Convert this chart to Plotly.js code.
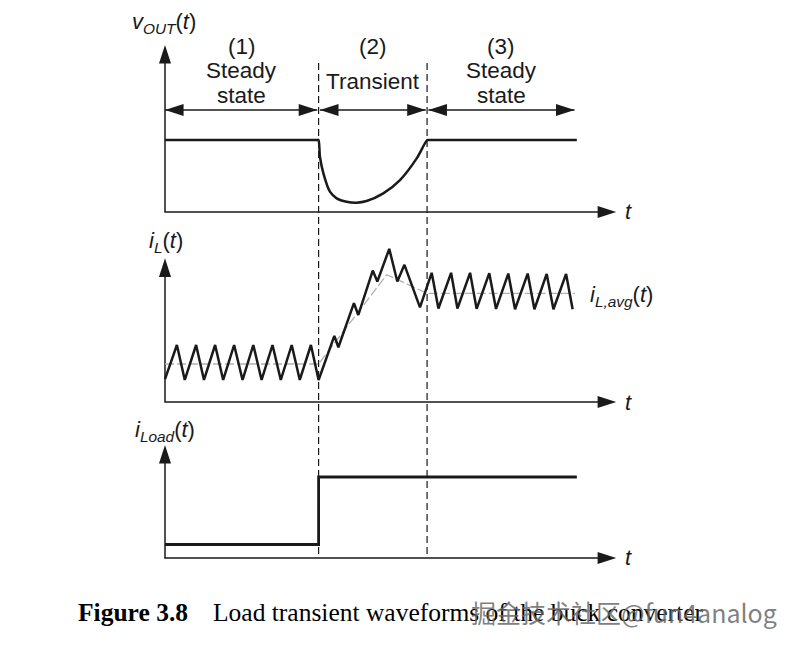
<!DOCTYPE html>
<html><head><meta charset="utf-8">
<script src="https://cdn.plot.ly/plotly-3.0.1.min.js"></script>
<style>html,body{margin:0;padding:0;background:#fff}</style>
</head><body><div id="chart" style="width:800px;height:647px"></div>
<script>
// time in switching periods
const tTransStart = 8.0, tTransEnd = 13.65, tStop = 21.45, tAxisEnd = 23.5;

// Panel 1: v_OUT(t)
const vOutT = [0, 7.9, 7.99, 8.07, 8.25, 8.59, 8.94, 9.46, 9.98, 10.50, 11.37, 12.24, 13.11, 13.66, 13.75, 21.45];
const vOutV = [1.0, 1.0, 1.0, 0.768, 0.537, 0.282, 0.19, 0.143, 0.13, 0.153, 0.259, 0.444, 0.745, 1.0, 1.0, 1.0];

// Panel 2: i_L(t)
const iLT = [0, 0.62, 1.03, 1.62, 2.03, 2.61, 3.03, 3.6, 4.04, 4.6, 5.03, 5.6, 6.03, 6.6, 7.02, 7.6, 8.0,
  8.82, 9.03, 9.84, 10.07, 10.82, 11.06, 11.68, 12.10, 12.47, 13.28, 13.89,
  14.24, 14.90, 15.23, 15.89, 16.23, 16.89, 17.24, 17.88, 18.23, 18.89, 19.24, 19.88, 20.23, 20.89, 21.23];
const iLV = [0.6, 1.5, 0.58, 1.5, 0.58, 1.5, 0.58, 1.5, 0.58, 1.5, 0.58, 1.5, 0.58, 1.5, 0.58, 1.5, 0.58,
  1.74, 1.44, 2.60, 2.29, 3.46, 3.17, 4.03, 3.17, 3.61, 2.49, 3.40,
  2.46, 3.40, 2.46, 3.40, 2.45, 3.39, 2.45, 3.38, 2.44, 3.38, 2.44, 3.37, 2.44, 3.37, 2.44];
const iLAvgT = [0, 8.0, 11.55, 13.65, 21.35];
const iLAvgV = [1.0, 1.0, 3.35, 2.86, 2.86];

// Panel 3: i_Load(t)
const iLoadT = [0, 8.0, 21.45];
const iLoadV = [0.2, 1.2, 1.2];

// Axis arrow tips (in each panel's own units)
const yTips = [2.32, 3.78, 1.674];
const arrowLevel = 1.417;

const regionLabels = [["(1)", "Steady", "state"], ["(2)", "Transient"], ["(3)", "Steady", "state"]];
const regionBounds = [[0, tTransStart], [tTransStart, tTransEnd], [tTransEnd, 21.4]];

const W = 800, H = 647;
const T0PX = 165, PXU = 19.2;
function yRange(axisPx, s) { return [(axisPx - H) / s, axisPx / s]; }
const SANS = 'Liberation Sans, Arial, sans-serif';
const SERIF = 'Liberation Serif, Times New Roman, serif';
const INK = '#1a1a1a';

const traces = [];
const yaxes = ['y', 'y2', 'y3'];
const backoff = [0.12, 0.23, 0.13];

// axes with arrows
yaxes.forEach((ya, k) => {
  traces.push({x: [0, 0, tAxisEnd - 0.3], y: [yTips[k] - backoff[k], 0, 0], yaxis: ya,
    mode: 'lines', line: {color: INK, width: 1.5}, hoverinfo: 'skip', showlegend: false});
  traces.push({x: [0, tAxisEnd], y: [yTips[k], 0], yaxis: ya, mode: 'markers',
    marker: {symbol: 'arrow', size: 19.5, angle: [0, 90], color: INK, line: {width: 0}},
    hoverinfo: 'skip', showlegend: false});
});

// double arrows for regions
regionBounds.forEach(([a, b], k) => {
  const g = 0.07;
  const xa = k === 0 ? a : a + g, xb = b - g;
  traces.push({x: [xa, xb], y: [arrowLevel, arrowLevel], yaxis: 'y', mode: 'lines+markers',
    line: {color: INK, width: 1.5},
    marker: {symbol: 'arrow', size: 19.5, angle: [-90, 90], color: INK, line: {width: 0}},
    hoverinfo: 'skip', showlegend: false});
});

// waveforms
traces.push({x: vOutT, y: vOutV, yaxis: 'y', mode: 'lines', line: {color: INK, width: 2.5, shape: 'spline', smoothing: 0.8}, showlegend: false});
traces.push({x: iLAvgT, y: iLAvgV, yaxis: 'y2', mode: 'lines', line: {color: '#b0b0b0', width: 1.3, dash: '9px,3px'}, showlegend: false});
traces.push({x: iLT, y: iLV, yaxis: 'y2', mode: 'lines', line: {color: INK, width: 2.5}, showlegend: false});
traces.push({x: iLoadT, y: iLoadV, yaxis: 'y3', mode: 'lines', line: {color: INK, width: 2.8, shape: 'hv'}, showlegend: false});

// dashed separators
const shapes = [tTransStart, tTransEnd].map(t => ({
  type: 'line', xref: 'x', yref: 'paper', x0: t, x1: t, y0: 1 - 63 / H, y1: 1 - 558 / H,
  line: {color: INK, width: 1.2, dash: '7px,4px'}
}));

function ann(text, xpx, ypx, size, extra) {
  return Object.assign({text: text, xref: 'paper', yref: 'paper', x: xpx / W, y: 1 - ypx / H,
    xanchor: 'center', yanchor: 'middle', showarrow: false,
    font: {family: SANS, size: size, color: INK}}, extra || {});
}

const annotations = [];
annotations.push(ann('<i>v</i><sub><i>OUT</i></sub>(<i>t</i>)', 164, 23, 22));
annotations.push(ann('<i>i</i><sub><i>L</i></sub>(<i>t</i>)', 166, 242, 22));
annotations.push(ann('<i>i</i><sub><i>Load</i></sub>(<i>t</i>)', 165, 431, 22));
annotations.push(ann('<i>i</i><sub><i>L,avg</i></sub>(<i>t</i>)', 621, 296, 22));
[212, 402, 557].forEach(y => annotations.push(ann('<i>t</i>', 628, y, 22)));

const lineY = [[46, 70, 96], [46, 82], [46, 70, 96]];
regionLabels.forEach((lines, k) => {
  const mid = (regionBounds[k][0] + regionBounds[k][1]) / 2;
  lines.forEach((txt, j) => {
    annotations.push(Object.assign(ann(txt, 0, lineY[k][j], 22.5), {xref: 'x', x: mid}));
  });
});

annotations.push(ann('<b>Figure 3.8</b>', 76, 612, 25.5, {xanchor: 'left', font: {family: SERIF, size: 25.5, color: '#000'}}));
annotations.push(ann('Load transient waveforms of the buck converter', 211, 612, 25.5, {xanchor: 'left', font: {family: SERIF, size: 25.5, color: '#000'}}));
annotations.push(ann('掘金技术社区@fun4analog', 469, 612, 25, {xanchor: 'left', font: {family: 'Noto Sans CJK SC, Noto Sans, sans-serif', size: 25, color: 'rgba(105,105,105,0.85)'}}));

const hidden = {visible: false, fixedrange: true};
const layout = {
  width: W, height: H,
  margin: {l: 0, r: 0, t: 0, b: 0},
  paper_bgcolor: '#fff', plot_bgcolor: '#fff',
  showlegend: false,
  xaxis: Object.assign({range: [-T0PX / PXU, (W - T0PX) / PXU], domain: [0, 1]}, hidden),
  yaxis: Object.assign({range: yRange(212, 72), domain: [0, 1]}, hidden),
  yaxis2: Object.assign({range: yRange(402, 38), overlaying: 'y', anchor: 'x'}, hidden),
  yaxis3: Object.assign({range: yRange(558, 67.5), overlaying: 'y', anchor: 'x'}, hidden),
  shapes: shapes,
  annotations: annotations
};

Plotly.newPlot('chart', traces, layout, {displayModeBar: false, staticPlot: true});
</script>
</body></html>
